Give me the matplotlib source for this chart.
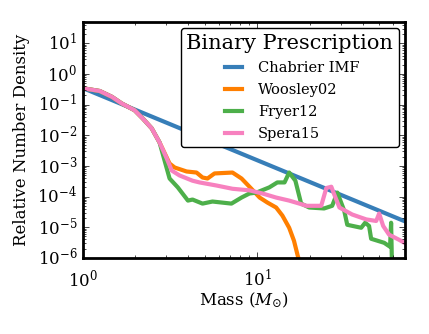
import numpy as np
import matplotlib
matplotlib.use("Agg")
import matplotlib.pyplot as plt

plt.style.use("classic")
plt.rcParams["font.family"] = "DejaVu Serif"
plt.rcParams["mathtext.fontset"] = "dejavuserif"

# Chabrier IMF (high-mass power law)
chab_m = [1.0, 71.0]
chab_n = [0.35, 1.5e-5]

# shared low-mass part
low_m = [1.0, 1.05, 1.25, 1.47, 1.67, 1.98, 2.20, 2.48, 2.75]
low_n = [0.34, 0.33, 0.28, 0.18, 0.11, 0.066, 0.036, 0.017, 5.9e-3]

woos_m = low_m + [3.14, 3.36, 3.93, 4.48, 4.85, 5.18, 5.68, 7.20, 8.11, 9.24,
                  10.3, 11.4, 12.8, 13.9, 15.2, 16.2, 17.0, 17.8]
woos_n = low_n + [1.2e-3, 8.9e-4, 6.6e-4, 6.1e-4, 4.2e-4, 3.9e-4, 5.7e-4, 6.1e-4,
                  3.9e-4, 1.8e-4, 9.3e-5, 6.4e-5, 4.4e-5, 2.4e-5, 9.6e-6, 3.6e-6,
                  1.2e-6, 5e-7]

fryer_m = low_m + [3.14, 3.50, 4.00, 4.25, 4.85, 5.53, 7.10, 8.11, 9.00, 9.87,
                   11.7, 13.0, 14.3, 15.2, 16.5, 17.8, 19.8, 24.1, 26.8, 28.7,
                   31.4, 32.7, 39.3, 41.4, 43.6, 44.8, 53.2, 57.5, 58.3, 59.0]
fryer_n = low_n + [3.9e-4, 2.0e-4, 7.4e-5, 8.0e-5, 5.9e-5, 6.9e-5, 5.9e-5, 9.3e-5,
                   1.26e-4, 1.35e-4, 2.0e-4, 2.9e-4, 2.9e-4, 6.1e-4, 3.3e-4, 5.9e-5,
                   4.4e-5, 4.1e-5, 5.0e-5, 1.35e-4, 3.5e-5, 1.2e-5, 9.6e-6, 1.4e-5,
                   1.1e-5, 4.2e-6, 3.1e-6, 2.3e-6, 1.4e-5, 5e-7]

spera_m = low_m + [3.02, 3.23, 3.58, 4.25, 4.66, 5.83, 7.20, 9.00, 10.7, 12.8,
                   15.2, 17.4, 19.1, 23.2, 24.8, 26.5, 27.5, 29.5, 34.9, 42.0,
                   47.9, 49.8, 52.5, 56.8, 64.7, 71.0]
spera_n = low_n + [1.8e-3, 7.1e-4, 4.9e-4, 3.3e-4, 2.9e-4, 2.3e-4, 1.8e-4, 1.6e-4,
                   1.26e-4, 9.3e-5, 7.4e-5, 5.9e-5, 5.0e-5, 5.0e-5, 1.9e-4, 2.1e-4,
                   1.2e-4, 4.4e-5, 2.6e-5, 1.8e-5, 1.6e-5, 2.8e-5, 1.1e-5, 5.7e-6,
                   3.9e-6, 2.9e-6]

series = [
    ("Chabrier IMF", chab_m, chab_n, "#377eb8"),
    ("Woosley02", woos_m, woos_n, "#ff7f00"),
    ("Fryer12", fryer_m, fryer_n, "#4daf4a"),
    ("Spera15", spera_m, spera_n, "#f781bf"),
]

fig = plt.figure(figsize=(4.29, 3.34), dpi=100, facecolor="white")
ax = fig.add_axes([0.193, 0.228, 0.751, 0.706])

for label, m, n, c in series:
    ax.plot(m, n, color=c, lw=3, label=label)

ax.set_xscale("log")
ax.set_yscale("log")
ax.set_xlim(1, 70)
ax.set_ylim(1e-6, 50)
ax.set_xlabel(r"Mass ($M_{\odot}$)", fontsize=12, labelpad=0)
ax.set_ylabel("Relative Number Density", fontsize=12)
ax.tick_params(labelsize=12)
ax.tick_params(axis="x", which="major", pad=8)
for sp in ax.spines.values():
    sp.set_linewidth(2)

leg = ax.legend(loc="upper right", title="Binary Prescription", fontsize=10.5,
                fancybox=True, framealpha=1, handlelength=1.8,
                borderaxespad=0.4, labelspacing=0.55)
leg.get_title().set_fontsize(15)
leg.get_frame().set_linewidth(1)

fig.savefig("out.png", dpi=100, facecolor="white")
